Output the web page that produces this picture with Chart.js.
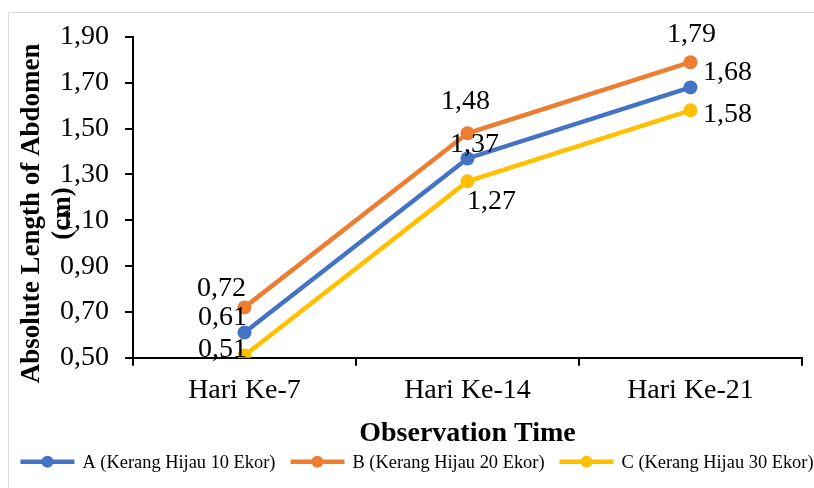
<!DOCTYPE html>
<html>
<head>
<meta charset="utf-8">
<script src="https://cdn.jsdelivr.net/npm/chart.js@4.4.1/dist/chart.umd.min.js"></script>
<style>
  html, body { margin: 0; padding: 0; background: #fff; overflow: hidden; }
  #wrap { position: relative; width: 814px; height: 488px; }
  #frame { position: absolute; left: 8px; top: 12px; width: 900px; height: 600px; border: 1px solid #d9d9d9; box-sizing: border-box; }
  #wrap canvas { position: absolute; left: 0; top: 0; }
</style>
</head>
<body>
<div id="wrap">
  <div id="frame"></div>
  <canvas id="chart"></canvas>
</div>
<script>
// Chart data
const categories = ['Hari Ke-7', 'Hari Ke-14', 'Hari Ke-21'];
const seriesNames = ['A (Kerang Hijau 10 Ekor)', 'B (Kerang Hijau 20 Ekor)', 'C (Kerang Hijau 30 Ekor)'];
const valuesA = [0.61, 1.37, 1.68];
const valuesB = [0.72, 1.48, 1.79];
const valuesC = [0.51, 1.27, 1.58];
const yMin = 0.5;
const yMax = 1.9;
const yStep = 0.2;

const colors = ['#4472C4', '#ED7D31', '#FFC000'];
const serif = '"Liberation Serif", "Times New Roman", serif';

// label nudges (dx, dy) per dataset and point, like the hand-placed labels in the original
const labelNudge = [
    [[-22, -15], [7, -14], [37, -15]],
    [[-23, -19], [-2, -32], [1, -28]],
    [[-22, -6], [24, 20], [37, 4]]
];

const fmt = v => v.toFixed(2).replace('.', ',');

const valueLabels = {
    id: 'valueLabels',
    afterDatasetsDraw(chart) {
        const ctx = chart.ctx;
        ctx.save();
        ctx.font = '28px ' + serif;
        ctx.fillStyle = '#000';
        ctx.textAlign = 'center';
        ctx.textBaseline = 'middle';
        chart.data.datasets.forEach((ds, i) => {
            chart.getDatasetMeta(i).data.forEach((pt, j) => {
                const [dx, dy] = labelNudge[i][j];
                ctx.fillText(fmt(ds.data[j]), pt.x + dx, pt.y + dy);
            });
        });
        ctx.restore();
    }
};

// y-axis title drawn by hand so it can sit over the tick labels as in the original
const yTitle = {
    id: 'yTitle',
    afterDraw(chart) {
        const ctx = chart.ctx;
        const area = chart.chartArea;
        ctx.save();
        ctx.font = 'bold 27px ' + serif;
        ctx.fillStyle = '#000';
        ctx.textAlign = 'center';
        ctx.textBaseline = 'middle';
        ctx.translate(area.left - 101, (area.top + area.bottom) / 2 + 16);
        ctx.rotate(-Math.PI / 2);
        ctx.fillText('Absolute Length of Abdomen', 0, 0);
        ctx.fillText('(cm)', 0, 31);
        ctx.restore();
    }
};

// legend in one row: line with a dot, then the series name
const lineLegend = {
    id: 'lineLegend',
    afterDraw(chart) {
        const ctx = chart.ctx;
        const iconW = 54, gapText = 8, gapItem = 15;
        ctx.save();
        ctx.font = '18.4px ' + serif;
        ctx.textBaseline = 'middle';
        ctx.textAlign = 'left';
        const items = chart.data.datasets.map(ds => ({
            text: ds.label,
            color: ds.borderColor,
            w: iconW + gapText + ctx.measureText(ds.label).width
        }));
        const total = items.reduce((s, it) => s + it.w, 0) + gapItem * (items.length - 1);
        let x = 417 - total / 2;
        const y = chart.chartArea.bottom + 104;
        items.forEach(it => {
            ctx.strokeStyle = it.color;
            ctx.lineWidth = 4.5;
            ctx.beginPath();
            ctx.moveTo(x, y);
            ctx.lineTo(x + iconW, y);
            ctx.stroke();
            ctx.fillStyle = it.color;
            ctx.beginPath();
            ctx.arc(x + iconW / 2, y, 6, 0, Math.PI * 2);
            ctx.fill();
            ctx.fillStyle = '#000';
            ctx.fillText(it.text, x + iconW + gapText, y + 1);
            x += it.w + gapItem;
        });
        ctx.restore();
    }
};

const ctx = document.getElementById('chart').getContext('2d');
const chart = new Chart(ctx, {
    type: 'line',
    data: {
        labels: categories,
        datasets: [valuesA, valuesB, valuesC].map((vals, i) => ({
            label: seriesNames[i],
            data: vals,
            borderColor: colors[i],
            backgroundColor: colors[i],
            borderWidth: 4.5,
            pointRadius: 7,
            pointBorderWidth: 0,
            pointBackgroundColor: colors[i],
            tension: 0
        }))
    },
    options: {
        responsive: true,
        maintainAspectRatio: false,
        animation: false,
        layout: {
            padding: { left: 24, right: 12, top: 37, bottom: 37 }
        },
        scales: {
            x: {
                offset: true,
                grid: {
                    offset: true,
                    drawOnChartArea: false,
                    drawTicks: true,
                    tickLength: 8,
                    color: '#000',
                    lineWidth: 2
                },
                border: { color: '#000', width: 2 },
                ticks: {
                    color: '#000',
                    padding: 8,
                    font: { family: serif, size: 28 }
                },
                title: {
                    display: true,
                    text: 'Observation Time',
                    color: '#000',
                    font: { family: serif, size: 28, weight: 'bold' },
                    padding: { top: 2, bottom: 0 }
                }
            },
            y: {
                min: yMin,
                max: yMax,
                afterFit(scale) { scale.width = 109; },
                grid: {
                    drawOnChartArea: false,
                    drawTicks: true,
                    tickLength: 8,
                    color: '#000',
                    lineWidth: 2
                },
                border: { color: '#000', width: 2 },
                ticks: {
                    stepSize: yStep,
                    color: '#000',
                    padding: 16,
                    font: { family: serif, size: 28 },
                    callback: v => fmt(v)
                }
            }
        },
        plugins: {
            legend: { display: false },
            tooltip: { enabled: false }
        }
    },
    plugins: [valueLabels, yTitle, lineLegend]
});
</script>
</body>
</html>
